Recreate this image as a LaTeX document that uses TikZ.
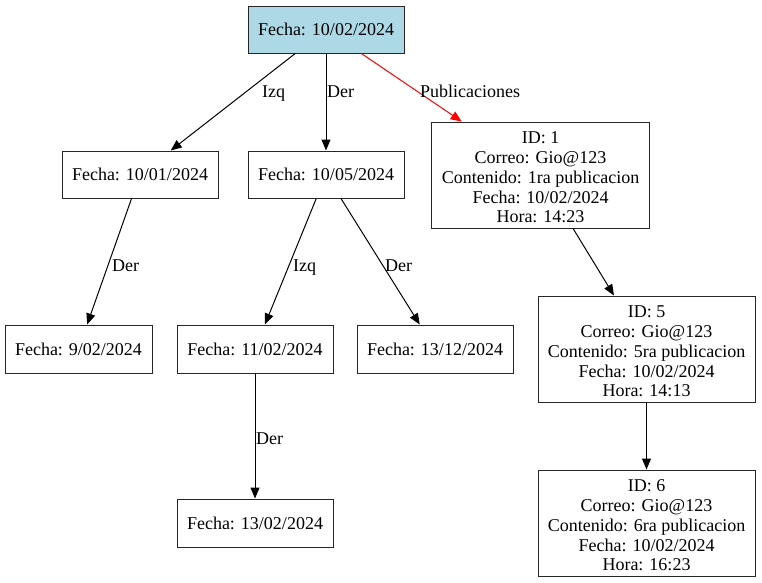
\documentclass[tikz,border=0pt]{standalone}
\usepackage{fontspec}
\setmainfont{Liberation Serif}
\usetikzlibrary{arrows.meta}
\definecolor{rootblue}{HTML}{ADD8E6}
\begin{document}
\begin{tikzpicture}[x=1pt,y=-1pt,
  box/.style={draw=black!85, line width=1pt, inner sep=0pt, align=center,
    font=\fontsize{18}{19.8}\selectfont},
  small/.style={box, minimum width=156pt, minimum height=47pt},
  pub/.style={box, minimum width=218pt, minimum height=106pt},
  pubtext/.style={inner sep=0pt, align=center, font=\fontsize{18}{19.8}\selectfont},
  edge/.style={line width=1pt, -{Triangle[length=11pt,width=9pt]}},
  lbl/.style={inner sep=0pt, anchor=base west, font=\fontsize{18}{19.8}\selectfont}]
\useasboundingbox (0,0) rectangle (762,582);

\node[small, fill=rootblue] (root) at (326,29.5) {Fecha: 10/02/2024};
\node[small] (n1) at (140,174.5) {Fecha: 10/01/2024};
\node[small] (n2) at (326,174.5) {Fecha: 10/05/2024};
\node[pub] (p1) at (540.5,175) {};
\node[pubtext] (p1t) at (540.5,177.5) {ID: 1\\Correo: Gio@123\\Contenido: 1ra publicacion\\Fecha: 10/02/2024\\Hora: 14:23};
\node[small, minimum width=147pt, minimum height=48pt] (n3) at (78.5,349) {Fecha: 9/02/2024};
\node[small, minimum height=48pt] (n4) at (255,349) {Fecha: 11/02/2024};
\node[small, minimum height=48pt] (n5) at (435,349) {Fecha: 13/12/2024};
\node[pub, minimum width=217pt] (p5) at (646.5,349) {};
\node[pubtext] (p5t) at (646.5,351.5) {ID: 5\\Correo: Gio@123\\Contenido: 5ra publicacion\\Fecha: 10/02/2024\\Hora: 14:13};
\node[small, minimum height=48pt] (n6) at (255,523) {Fecha: 13/02/2024};
\node[pub, minimum width=217pt] (p6) at (646.5,523) {};
\node[pubtext] (p6t) at (646.5,525.5) {ID: 6\\Correo: Gio@123\\Contenido: 6ra publicacion\\Fecha: 10/02/2024\\Hora: 16:23};

\draw[edge] (root) -- (n1);
\draw[edge] (root) -- (n2);
\draw[edge, draw=red, -{Triangle[length=11pt,width=9pt,fill=red]}] (root) -- (p1);
\draw[edge] (n1) -- (n3);
\draw[edge] (n2) -- (n4);
\draw[edge] (n2) -- (n5);
\draw[edge] (n4) -- (n6);
\draw[edge] (p1) -- (p5);
\draw[edge] (p5) -- (p6);

\node[lbl] (l1) at (262,97) {Izq};
\node[lbl] (l2) at (327,97) {Der};
\node[lbl] (l3) at (420,97) {Publicaciones};
\node[lbl] (l4) at (112,271) {Der};
\node[lbl] (l5) at (293,271) {Izq};
\node[lbl] (l6) at (385,271) {Der};
\node[lbl] (l7) at (256,444) {Der};
\end{tikzpicture}
\end{document}
